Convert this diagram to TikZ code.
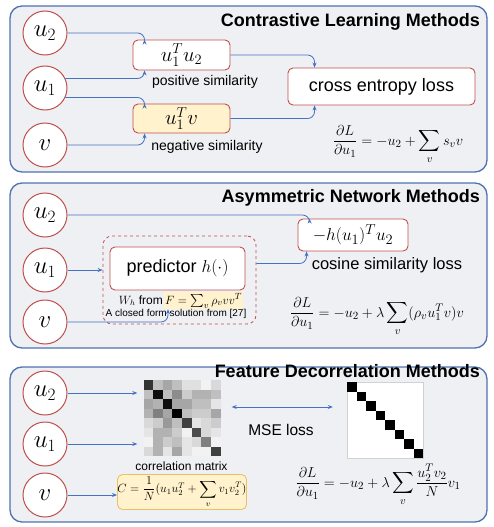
\documentclass[tikz,border=0pt]{standalone}
\usepackage{amsmath,amssymb}
\usepackage[no-math]{fontspec}
\setmainfont{Liberation Sans}
\usepackage{xcolor}
\usepackage{tikz}
\usetikzlibrary{arrows.meta}
\definecolor{panelblue}{HTML}{4F72B0}
\definecolor{panelgray}{HTML}{EFF0F3}
\definecolor{linkblue}{HTML}{4472C4}
\definecolor{nodered}{HTML}{C0504D}
\definecolor{hlyellow}{HTML}{FFF2CC}
\definecolor{hlborder}{HTML}{EBC165}
\newcommand{\fsz}[1]{\fontsize{#1}{#1}\selectfont}
\tikzset{
  panel/.style={
    draw=panelblue,
    line width=1.3pt,
    fill=panelgray,
    rounded corners=12pt
  },
  title/.style={
    anchor=base east,
    inner sep=0pt,
    font=\fsz{18}\bfseries
  },
  vec/.style={
    circle,
    draw=nodered,
    line width=1pt,
    fill=white,
    minimum size=44pt,
    inner sep=0pt,
    font=\fsz{24}
  },
  simbox/.style={
    draw=nodered,
    line width=0.9pt,
    fill=white,
    rounded corners=5pt,
    inner sep=0pt
  },
  %grpbox is the dashed frame round the predictor
  grpbox/.style={
    draw=nodered,
    line width=0.8pt,
    dashed,
    rounded corners=9pt,
    inner sep=0pt
  },
  lbl/.style={
    anchor=base,
    inner sep=0pt,
    font=\fsz{14}
  },
  eqn/.style={
    anchor=base,
    inner sep=0pt,
    font=\fsz{15}
  },
  link/.style={
    draw=linkblue,
    line width=0.8pt,
    rounded corners=7pt,
    -{Stealth[length=5pt,width=4pt]}
  },
  dlink/.style={
    draw=linkblue,
    line width=0.8pt,
    {Stealth[length=5pt,width=4pt]}-{Stealth[length=5pt,width=4pt]}
  }
}

\begin{document}
\begin{tikzpicture}[x=1pt,y=-1pt]
        \useasboundingbox (0,0) rectangle (494,527);
        % contrastive learning
        \draw[panel] (10,6) rectangle (487,172);
        \node[title] (t1) at (480,27) {Contrastive Learning Methods};
        \node[vec] (a2) at (45,33) {$u_2$};
        \node[vec] (a1) at (45,88) {$u_1$};
        \node[vec] (av) at (45,145) {$v$};
        \node[simbox, minimum width=97, minimum height=30, font=\fsz{20}] (pos) at (181.5,55) {$u_1^Tu_2$};
        \node[simbox, fill=hlyellow, minimum width=97, minimum height=29, font=\fsz{20}] (neg) at (181.5,118.5) {$u_1^Tv$};
        \node[lbl] (poslbl) at (205,85) {positive similarity};
        \node[lbl] (neglbl) at (207,150) {negative similarity};
        \node[simbox, minimum width=187, minimum height=37, font=\fsz{18}] (ce) at (381.5,86.5) {cross entropy loss};
        \node[eqn] (g1) at (398,145) {$\dfrac{\partial L}{\partial u_1}=-u_2+\displaystyle\sum_v s_v v$};
        \draw[link] (a2) -| ([xshift=12]pos.north west);
        \draw[link] (a1.25) -| ([xshift=12]pos.south west);
        \draw[link] (a1.-25) -| ([xshift=12]neg.north west);
        \draw[link] (av) -| ([xshift=12]neg.south west);
        \draw[link] (pos) -| ([xshift=27]ce.north west);
        \draw[link] (neg) -| ([xshift=27]ce.south west);
        % asymmetric network
        \draw[panel] (10,183) rectangle (487,348);
        \node[title] (t2) at (480,202.5) {Asymmetric Network Methods};
        \node[vec] (b2) at (45,215) {$u_2$};
        \node[vec] (b1) at (45,270) {$u_1$};
        \node[vec] (bv) at (45,322) {$v$};
        \node[grpbox, minimum width=153, minimum height=88] (grp) at (179.5,280) {};
        \node[simbox, minimum width=135, minimum height=43, font=\fsz{18}] (pred) at (177.5,268.5) {predictor $h(\cdot)$};
        \node[anchor=base east, inner sep=1pt, font=\fsz{12}] (wh) at (164,304) {$W_h$ from};
        \node[anchor=base west, inner sep=1pt, fill=hlyellow, font=\fsz{13}] (fhl) at (164,304) {$F=\sum_v\rho_v vv^T$};
        \node[anchor=base, inner sep=0pt, font=\fsz{10}] (cf) at (176,316.5) {A closed form solution from [27]};
        \node[simbox, minimum width=110, minimum height=32, font=\fsz{19}] (cos) at (353,235) {$-h(u_1)^Tu_2$};
        \node[lbl, font=\fsz{16.5}] (coslbl) at (387,269) {cosine similarity loss};
        \node[eqn] (g2) at (377,317) {$\dfrac{\partial L}{\partial u_1}=-u_2+\lambda\displaystyle\sum_v(\rho_v u_1^Tv)v$};
        \draw[link] (b2) -| ([xshift=12]cos.north west);
        \draw[link] (b1) -- (b1 -| grp.west);
        \draw[link] ([yshift=5]grp.east |- pred.east) -| ([xshift=9]cos.south west);
        \draw[link] (bv) -| ([xshift=4]fhl.south west);
        % feature decorrelation
        \draw[panel] (10,367) rectangle (487,522);
        \node[title] (t3) at (480,377) {Feature Decorrelation Methods};
        \node[vec] (c2) at (45,393) {$u_2$};
        \node[vec] (c1) at (45,444) {$u_1$};
        \node[vec] (cv) at (45,495) {$v$};
        \node[minimum width=77, minimum height=76, inner sep=0pt] (corr) at (182,418) {};
        \foreach \vals [count=\r from 0] in {{80,25,35,25,12,12,5,15},{25,95,25,45,20,30,30,25},
            {35,30,95,35,35,25,25,10},{30,50,35,100,25,20,20,35},{15,20,40,25,75,10,15,20},
            {10,30,30,20,5,70,15,10},{5,30,20,25,10,15,50,5},{15,30,10,35,10,5,5,75}}
          \foreach \g [count=\c from 0] in \vals
            \fill[black!\g] (143.5+\c*9.625,380+\r*9.5) rectangle ++(9.625,9.5);
        \node[draw=gray!35, fill=white, minimum width=76, minimum height=76, inner sep=0pt] (ident) at (385,420) {};
        \foreach \i in {0,...,7}
          \fill (347+\i*9.5,382+\i*9.5) rectangle ++(9.5,9.5);
        \node[lbl, font=\fsz{12}] (corrlbl) at (181.5,470) {correlation matrix};
        \node[simbox, draw=hlborder, fill=hlyellow, minimum width=124, minimum height=35, font=\fsz{12}] (cmat) at (182,492) {$C=\dfrac{1}{N}(u_1u_2^T+\displaystyle\sum_v v_1v_2^T)$};
        \node[lbl, font=\fsz{15.5}] (mse) at (281,435) {MSE loss};
        \node[eqn] (g3) at (378,487) {$\dfrac{\partial L}{\partial u_1}=-u_2+\lambda\displaystyle\sum_v\dfrac{u_2^Tv_2}{N}v_1$};
        \draw[link] (c2) -- ([xshift=-6]c2 -| corr.west);
        \draw[link] (c1) -- ([xshift=-6]c1 -| corr.west);
        \draw[link] (cv) -- (cv -| cmat.west);
        \draw[dlink] ([xshift=11,yshift=11]corr.east) -- ([xshift=-14,yshift=13]ident.west);
\end{tikzpicture}
\end{document}
